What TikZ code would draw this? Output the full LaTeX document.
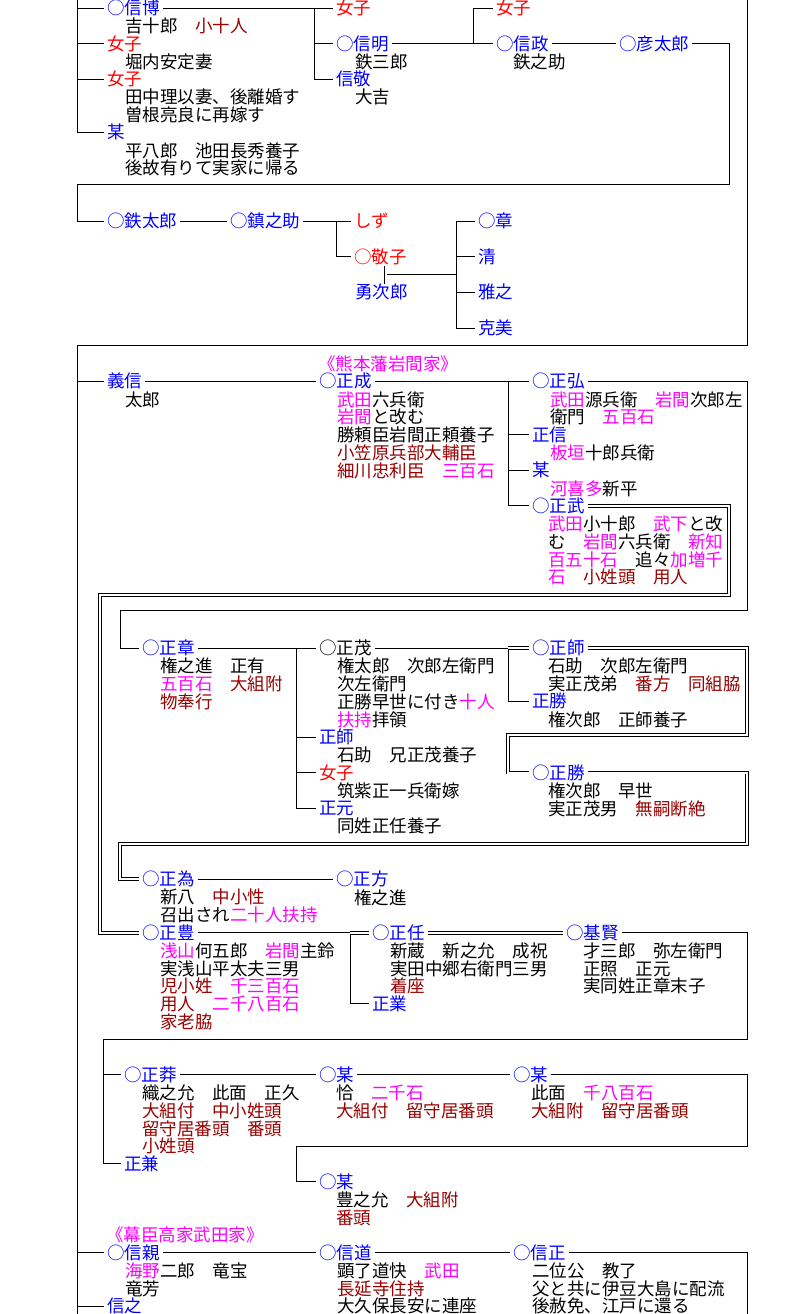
\documentclass[tikz,border=0pt]{standalone}
\usepackage{fontspec}
\setmainfont{Noto Sans CJK JP}
\definecolor{namec}{RGB}{0,0,255}
\definecolor{femc}{RGB}{255,0,0}
\definecolor{pinkc}{RGB}{255,0,255}
\definecolor{brownc}{RGB}{153,0,0}
\newcommand{\pk}[1]{\textcolor{pinkc}{#1}}
\newcommand{\bn}[1]{\textcolor{brownc}{#1}}
\tikzset{
	pname/.style={anchor=west,inner xsep=3pt,inner ysep=0pt,text height=15pt,text depth=2pt,text=namec},
	fname/.style={pname,text=femc},
	kname/.style={pname,text=black},
	hname/.style={pname,text=pinkc},
	note/.style={anchor=north west,inner sep=0pt,align=left},
	tie/.style={draw,line width=0.9pt},
	dbl/.style={draw,line width=0.9pt,double,double distance=2pt},
}
\begin{document}
\begin{tikzpicture}[x=1pt,y=-17.78pt,font=\fontsize{17.5pt}{17.78pt}\selectfont]
	\useasboundingbox (0,-0.45) rectangle (794,73.45);
	\fill[white] (0,-0.45) rectangle (794,73.45);
	\node[pname] (nobuhiro) at (104,0) {○信博};
	\node[note] (nobuhiro-d) at (125,0.55) {吉十郎　\bn{小十人}};
	\node[fname] (joshi1) at (104,2) {女子};
	\node[note] (joshi1-d) at (125,2.55) {堀内安定妻};
	\node[fname] (joshi2) at (104,4) {女子};
	\node[note] (joshi2-d) at (125,4.55) {田中理以妻、後離婚す\\曽根亮良に再嫁す};
	\node[pname] (bou1) at (104,7) {某};
	\node[note] (bou1-d) at (125,7.55) {平八郎　池田長秀養子\\後故有りて実家に帰る};
	\node[fname] (joshi3) at (333,0) {女子};
	\node[pname] (nobuaki) at (333,2) {○信明};
	\node[note] (nobuaki-d) at (355,2.55) {鉄三郎};
	\node[pname] (nobutaka) at (333,4) {信敬};
	\node[note] (nobutaka-d) at (355,4.55) {大吉};
	\node[fname] (joshi4) at (493,0) {女子};
	\node[pname] (nobumasa) at (493,2) {○信政};
	\node[note] (nobumasa-d) at (513,2.55) {鉄之助};
	\node[pname] (hikotaro) at (616,2) {○彦太郎};
	\node[pname] (tetsutaro) at (104,12) {○鉄太郎};
	\node[pname] (chinnosuke) at (227,12) {○鎮之助};
	\node[fname] (shizu) at (351,12) {しず};
	\node[fname] (keiko) at (351,14) {○敬子};
	\node[pname] (yujiro) at (352,16) {勇次郎};
	\node[pname] (akira) at (475,12) {○章};
	\node[pname] (kiyoshi) at (475,14) {清};
	\node[pname] (masayuki) at (475,16) {雅之};
	\node[pname] (katsumi) at (475,18) {克美};
	\coordinate (ka) at (77,-0.45);
	\draw[tie] (ka) |- (bou1.west);
	\foreach \n in {nobuhiro,joshi1,joshi2} \draw[tie] (ka |- \n.west) -- (\n.west);
	\coordinate (kb) at (314,0);
	\draw[tie] (nobuhiro.east) -- (joshi3.west);
	\draw[tie] (kb) |- (nobutaka.west);
	\draw[tie] (kb |- nobuaki.west) -- (nobuaki.west);
	\coordinate (kc) at (473,2);
	\draw[tie] (nobuaki.east) -- (nobumasa.west);
	\draw[tie] (kc) |- (joshi4.west);
	\draw[tie] (nobumasa.east) -- (hikotaro.west);
	\coordinate (ra) at (729,9.9);
	\coordinate (la) at (77,9.9);
	\draw[tie] (hikotaro.east) -| (ra) -- (la) |- (tetsutaro.west);
	\draw[tie] (tetsutaro.east) -- (chinnosuke.west);
	\coordinate (kd) at (336,12);
	\draw[tie] (chinnosuke.east) -- (shizu.west);
	\draw[tie] (kd) |- (keiko.west);
	\coordinate (ke) at (456,12);
	\coordinate (fufu) at (385.5,15);
	\draw[tie] (fufu) -- (ke |- fufu);
	\draw[dbl] (fufu |- keiko.south) -- (fufu |- yujiro.north);
	\draw[tie] (ke) |- (katsumi.west);
	\foreach \n in {akira,kiyoshi,masayuki} \draw[tie] (ke |- \n.west) -- (\n.west);

	\node[hname] (iwama) at (315,20) {《熊本藩岩間家》};
	\node[pname] (yoshinobu) at (104,21) {義信};
	\node[note] (yoshinobu-d) at (125,21.55) {太郎};
	\node[pname] (masanari) at (316,21) {○正成};
	\node[note] (masanari-d) at (337,21.55) {\pk{武田}六兵衛\\\pk{岩間}と改む\\勝頼臣岩間正頼養子\\\bn{小笠原兵部大輔臣}\\\bn{細川忠利臣}　\pk{三百石}};
	\node[pname] (masahiro) at (529,21) {○正弘};
	\node[note] (masahiro-d) at (550,21.55) {\pk{武田}源兵衛　\pk{岩間}次郎左\\衛門　\pk{五百石}};
	\node[pname] (masanobu) at (529,24) {正信};
	\node[note] (masanobu-d) at (550,24.55) {\pk{板垣}十郎兵衛};
	\node[pname] (bou2) at (529,26) {某};
	\node[note] (bou2-d) at (550,26.55) {\pk{河喜多}新平};
	\node[pname] (masatake) at (529,28) {○正武};
	\node[note] (masatake-d) at (548,28.55) {\pk{武田}小十郎　\pk{武下}と改\\む　\pk{岩間}六兵衛　\pk{新知}\\\pk{百五十石}　追々\pk{加増千}\\\pk{石}　\bn{小姓頭}　\bn{用人}};
	\draw[tie] (yoshinobu.east) -- (masanari.west);
	\coordinate (kg) at (508,21);
	\draw[tie] (masanari.east) -- (masahiro.west);
	\draw[tie] (kg) |- (masatake.west);
	\foreach \n in {masanobu,bou2} \draw[tie] (kg |- \n.west) -- (\n.west);

	\node[pname] (masaaki) at (139,36) {○正章};
	\node[note] (masaaki-d) at (160,36.55) {権之進　正有\\\pk{五百石}　\bn{大組附}\\\bn{物奉行}};
	\node[kname] (masashige) at (316,36) {○正茂};
	\node[note] (masashige-d) at (337,36.55) {権太郎　次郎左衛門\\次左衛門\\正勝早世に付き\pk{十人}\\\pk{扶持}拝領};
	\node[pname] (masamoro1) at (316,41) {正師};
	\node[note] (masamoro1-d) at (337,41.55) {石助　兄正茂養子};
	\node[fname] (joshi5) at (316,43) {女子};
	\node[note] (joshi5-d) at (337,43.55) {筑紫正一兵衛嫁};
	\node[pname] (masamoto) at (316,45) {正元};
	\node[note] (masamoto-d) at (337,45.55) {同姓正任養子};
	\node[pname] (masamoro2) at (529,36) {○正師};
	\node[note] (masamoro2-d) at (548,36.55) {石助　次郎左衛門\\実正茂弟　\bn{番方}　\bn{同組脇}};
	\node[pname] (masakatsu1) at (529,39) {正勝};
	\node[note] (masakatsu1-d) at (548,39.55) {権次郎　正師養子};
	\node[pname] (masakatsu2) at (529,43) {○正勝};
	\node[note] (masakatsu2-d) at (548,43.55) {権次郎　早世\\実正茂男　\bn{無嗣断絶}};
	\coordinate (kh) at (296,36);
	\draw[tie] (masaaki.east) -- (masashige.west);
	\draw[tie] (kh) |- (masamoto.west);
	\foreach \n in {masamoro1,joshi5} \draw[tie] (kh |- \n.west) -- (\n.west);
	\coordinate (ki) at (508,36);
	\draw[tie] (masashige.east) -- (ki);
	\draw[tie] (ki) |- (masakatsu1.west);
	\draw[dbl] (ki) -- (masamoro2.west);
	\coordinate (rd) at (747,40.9);
	\coordinate (ld) at (508,40.9);
	\draw[dbl] (masamoro2.east) -| (rd) -- (ld) |- (masakatsu2.west);

	\node[pname] (masatame) at (139,49) {○正為};
	\node[note] (masatame-d) at (160,49.55) {新八　\bn{中小性}\\召出され\pk{二十人扶持}};
	\node[pname] (masakata) at (333,49) {○正方};
	\node[note] (masakata-d) at (354,49.55) {権之進};
	\node[pname] (masatoyo) at (139,52) {○正豊};
	\node[note] (masatoyo-d) at (160,52.55) {\pk{浅山}何五郎　\pk{岩間}主鈴\\実浅山平太夫三男\\\bn{児小姓}　\pk{千三百石}\\\bn{用人}　\pk{二千八百石}\\\bn{家老脇}};
	\node[pname] (masatou) at (369,52) {○正任};
	\node[note] (masatou-d) at (390,52.55) {新蔵　新之允　成祝\\実田中郷右衛門三男\\\bn{着座}};
	\node[pname] (masagyo) at (369,56) {正業};
	\node[pname] (motokata) at (563,52) {○基賢};
	\node[note] (motokata-d) at (583,52.55) {才三郎　弥左衛門\\正照　正元\\実同姓正章末子};
	\coordinate (rb) at (747,33.9);
	\coordinate (lb) at (120,33.9);
	\draw[tie] (masahiro.east) -| (rb) -- (lb) |- (masaaki.west);
	\coordinate (rc) at (729,33);
	\coordinate (lc) at (100,33);
	\draw[dbl] (masatake.east) -| (rc) -- (lc) |- (masatoyo.west);
	\coordinate (re) at (747,47);
	\coordinate (le) at (120,47);
	\draw[dbl] (masakatsu2.east) -| (re) -- (le) |- (masatame.west);
	\draw[tie] (masatame.east) -- (masakata.west);
	\coordinate (kj) at (350,52);
	\draw[tie] (masatoyo.east) -- (kj);
	\draw[tie] (kj) |- (masagyo.west);
	\draw[dbl] (kj) -- (masatou.west);
	\draw[dbl] (masatou.east) -- (motokata.west);

	\node[pname] (masaso) at (121,60) {○正莽};
	\node[note] (masaso-d) at (142,60.55) {織之允　此面　正久\\\bn{大組付}　\bn{中小姓頭}\\\bn{留守居番頭}　\bn{番頭}\\\bn{小姓頭}};
	\node[pname] (masakane) at (121,65) {正兼};
	\node[pname] (bou3) at (316,60) {○某};
	\node[note] (bou3-d) at (336,60.55) {恰　\pk{二千石}\\\bn{大組付}　\bn{留守居番頭}};
	\node[pname] (bou4) at (510,60) {○某};
	\node[note] (bou4-d) at (531,60.55) {此面　\pk{千八百石}\\\bn{大組附}　\bn{留守居番頭}};
	\node[pname] (bou5) at (316,66) {○某};
	\node[note] (bou5-d) at (336,66.55) {豊之允　\bn{大組附}\\\bn{番頭}};
	\coordinate (rf) at (747,58);
	\coordinate (kk) at (103,58);
	\draw[tie] (motokata.east) -| (rf) -- (kk) |- (masakane.west);
	\draw[tie] (kk |- masaso.west) -- (masaso.west);
	\draw[tie] (masaso.east) -- (bou3.west);
	\draw[tie] (bou3.east) -- (bou4.west);
	\coordinate (rg) at (747,64);
	\coordinate (lg) at (296,64);
	\draw[tie] (bou4.east) -| (rg) -- (lg) |- (bou5.west);

	\node[hname] (takeda) at (103,69) {《幕臣高家武田家》};
	\node[pname] (nobuchika) at (104,70) {○信親};
	\node[note] (nobuchika-d) at (125,70.55) {\pk{海野}二郎　竜宝\\竜芳};
	\node[pname] (nobuyuki) at (104,73) {信之};
	\node[pname] (nobumichi) at (316,70) {○信道};
	\node[note] (nobumichi-d) at (337,70.55) {顕了道快　\pk{武田}\\\bn{長延寺住持}\\大久保長安に連座};
	\node[pname] (nobumasa2) at (510,70) {○信正};
	\node[note] (nobumasa2-d) at (532,70.55) {二位公　教了\\父と共に伊豆大島に配流\\後赦免、江戸に還る};
	\draw[tie] (nobuchika.east) -- (nobumichi.west);
	\draw[tie] (nobumichi.east) -- (nobumasa2.west);
	\coordinate (rh) at (747,73.45);
	\draw[tie] (nobumasa2.east) -| (rh);
	\coordinate (tr) at (747,-0.45);
	\coordinate (kf) at (77,19);
	\coordinate (kfb) at (77,73.45);
	\draw[tie] (tr) |- (kf) -- (kfb);
	\foreach \n in {yoshinobu,nobuchika,nobuyuki} \draw[tie] (kf |- \n.west) -- (\n.west);
\end{tikzpicture}
\end{document}
